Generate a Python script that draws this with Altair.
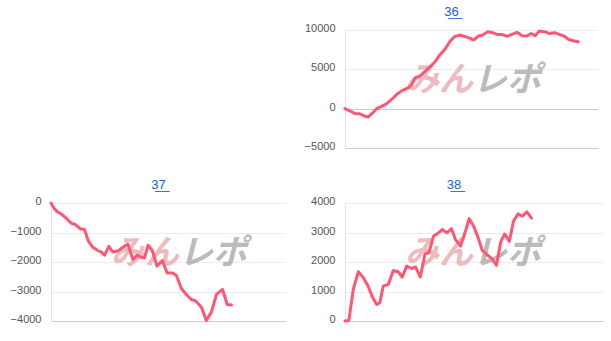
import altair as alt
import pandas as pd

# ---------------- data ----------------
# x positions are in "% of the panel's x range", y values are the differential
x36 = [0, 2.0, 4.0, 5.9, 7.9, 9.2, 10.6, 12.5, 14.5, 16.5, 18.5, 20.4, 22.4, 25.1, 26.4,
       27.7, 29.7, 31.7, 33.6, 35.6, 37.6, 39.6, 41.6, 43.3, 45.5, 47.5, 49.5, 50.8, 52.8,
       54.4, 56.5, 58.4, 60.1, 62.1, 64.1, 66.0, 68.0, 70.0, 71.9, 73.6, 75.2, 76.8, 78.9,
       80.7, 82.8, 84.7, 86.6, 88.3, 90.2, 92.2]
y36 = [0, -300, -640, -650, -970, -1060, -640, 0, 300, 640, 1200, 1790, 2260, 2680, 3060,
       3920, 4170, 4770, 5320, 5960, 6890, 7580, 8600, 9150, 9370, 9150, 8930, 8720, 9240,
       9370, 9790, 9660, 9440, 9440, 9200, 9440, 9700, 9280, 9240, 9560, 9280, 9870, 9790,
       9560, 9660, 9440, 9240, 8800, 8630, 8510]

x37 = [0, 1.4, 2.8, 4.7, 6.4, 8.5, 10.4, 12.4, 14.2, 16.1, 17.8, 19.9, 21.3, 22.8, 24.6,
       26.3, 28.4, 30.6, 32.7, 34.9, 36.6, 38.4, 39.8, 41.3, 43.1, 45.1, 47.4, 49.4, 51.6,
       53.3, 55.5, 57.6, 59.7, 61.6, 64.0, 66.1, 68.3, 70.4, 73.0, 75.0, 76.8]
y37 = [0, -190, -300, -390, -510, -680, -730, -870, -900, -1320, -1500, -1610, -1660, -1770,
       -1470, -1660, -1630, -1500, -1390, -1920, -1770, -1840, -1860, -1430, -1610, -2140,
       -1950, -2370, -2370, -2450, -2900, -3100, -3270, -3320, -3530, -3980, -3690, -3100,
       -2930, -3440, -3460]

x38 = [0, 1.5, 3.2, 5.2, 7.1, 9.0, 10.6, 12.3, 13.5, 14.8, 16.8, 18.7, 20.6, 22.2, 23.9,
       25.8, 27.4, 29.2, 31.0, 32.5, 34.3, 36.1, 37.7, 39.5, 41.3, 42.8, 44.8, 46.5, 48.1,
       49.9, 51.6, 53.2, 55.0, 56.8, 58.7, 60.4, 61.9, 63.7, 65.3, 67.1, 68.8, 70.5, 72.3]
y38 = [0, 20, 1070, 1670, 1470, 1180, 810, 560, 620, 1180, 1240, 1710, 1670, 1490, 1860,
       1780, 1830, 1490, 2280, 2310, 2870, 2980, 3100, 2990, 3130, 2760, 2540, 2990, 3470,
       3210, 2820, 2390, 2250, 2120, 1890, 2700, 2950, 2700, 3380, 3630, 3550, 3700, 3490]

titles = ["36", "37", "38"]
ticks36 = [-5000, 0, 5000, 10000]
ticks37 = [-4000, -3000, -2000, -1000, 0]
ticks38 = [0, 1000, 2000, 3000, 4000]
watermark = ["みん", "レポ"]

# ---------------- styling ----------------
LINE = "#ff5675"
FONT = "Liberation Sans"
H = 118


def underline(s):
    return "".join(ch + "\u0332" for ch in s)


def panel(xs, ys, title, ydom, yticks, width, title_dx, zero_dark):
    df = pd.DataFrame({"g": xs, "v": ys})
    if zero_dark:
        grid_color = {"condition": {"test": "datum.value === 0", "value": "#cccccc"},
                      "value": "#ebebeb"}
    else:
        grid_color = "#ebebeb"
    line = alt.Chart(df).mark_line(
        color=LINE, strokeWidth=3, strokeJoin="round", strokeCap="round"
    ).encode(
        x=alt.X("g:Q", scale=alt.Scale(domain=[0, 100], nice=False, zero=False),
                axis=alt.Axis(labels=False, ticks=False, grid=False, domain=True,
                              domainColor="#cccccc", domainWidth=1, title=None)),
        y=alt.Y("v:Q", scale=alt.Scale(domain=ydom, nice=False, zero=False),
                axis=alt.Axis(values=yticks, ticks=False, labelPadding=10, grid=True,
                              gridColor=grid_color, domain=True, domainColor="#e4e4e4",
                              labelFont=FONT, labelFontSize=11, labelColor="#555555",
                              labelFlush=False, labelOffset=-1.5, title=None, format="d")),
    )
    wm_a = alt.Chart(pd.DataFrame({"t": [watermark[0]]})).mark_text(
        font="Noto Sans CJK JP", fontSize=34, fontWeight="bold", fontStyle="italic",
        color="#ecb3b8", align="right", baseline="middle", opacity=0.9
    ).encode(text="t:N", x=alt.value(128), y=alt.value(51))
    wm_b = alt.Chart(pd.DataFrame({"t": [watermark[1]]})).mark_text(
        font="Noto Sans CJK JP", fontSize=34, fontWeight="bold", fontStyle="italic",
        color="#b4b4b4", align="left", baseline="middle", opacity=0.9
    ).encode(text="t:N", x=alt.value(128), y=alt.value(51))
    return alt.layer(wm_a, wm_b, line).properties(
        width=width, height=H,
        title=alt.TitleParams(underline(title), anchor="middle", dx=title_dx, offset=-6,
                              baseline="alphabetic", font=FONT, fontSize=13,
                              fontWeight="normal", color="#1a5fcc"),
    )


empty = alt.Chart(alt.Data(values=[])).mark_point(opacity=0).encode(
    x=alt.X("a:Q", axis=None), y=alt.Y("b:Q", axis=None)
).properties(width=235, height=H)

p36 = panel(x36, y36, titles[0], [-5000, 10000], ticks36, 253, -20, True)
p37 = panel(x37, y37, titles[1], [-4000, 0], ticks37, 235, -10, False)
p38 = panel(x38, y38, titles[2], [0, 4000], ticks38, 258, -20, False)

chart = alt.concat(
    empty, p36, p37, p38, columns=2, bounds="flush",
    spacing={"row": 55, "column": 59},
).properties(
    padding={"left": 10, "top": 5, "right": 5, "bottom": 5},
    background="white",
).configure_view(stroke=None)

chart.save("out.html", embed_options={"renderer": "svg", "actions": False})
